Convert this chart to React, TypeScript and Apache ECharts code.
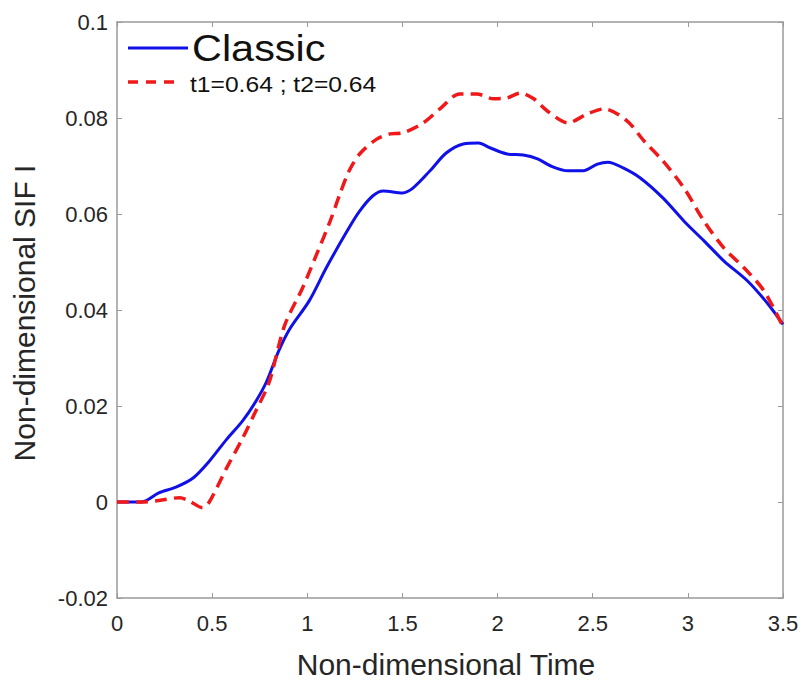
import React, { useEffect, useRef } from "react";
import * as echarts from "echarts";

const xTicks = [0, 0.5, 1, 1.5, 2, 2.5, 3, 3.5];
const yTicks = [-0.02, 0, 0.02, 0.04, 0.06, 0.08, 0.1];

const classicTime = [0, 0.13, 0.22, 0.31, 0.4, 0.485, 0.575, 0.66, 0.73, 0.785, 0.85, 0.907, 1.01, 1.1, 1.21, 1.275, 1.345, 1.4, 1.5, 1.555, 1.645, 1.73, 1.82, 1.9, 1.96, 2.05, 2.135, 2.21, 2.28, 2.37, 2.45, 2.525, 2.58, 2.66, 2.75, 2.87, 2.98, 3.085, 3.19, 3.315, 3.42, 3.5];
const classicSif = [0, 0, 0.0019, 0.0031, 0.005, 0.0085, 0.013, 0.0169, 0.021, 0.025, 0.0315, 0.036, 0.0419, 0.0488, 0.0565, 0.0606, 0.0638, 0.0648, 0.0644, 0.0654, 0.069, 0.0727, 0.0746, 0.0748, 0.0738, 0.0725, 0.0723, 0.0715, 0.07, 0.069, 0.069, 0.0704, 0.0708, 0.0696, 0.0675, 0.0633, 0.0585, 0.0544, 0.0502, 0.046, 0.0413, 0.037];

const modTime = [0, 0.13, 0.22, 0.33, 0.38, 0.45, 0.485, 0.575, 0.66, 0.73, 0.8, 0.88, 0.975, 1.05, 1.12, 1.17, 1.22, 1.275, 1.365, 1.435, 1.5, 1.61, 1.7, 1.8, 1.89, 1.98, 2.05, 2.12, 2.19, 2.26, 2.37, 2.47, 2.56, 2.68, 2.77, 2.87, 2.98, 3.085, 3.19, 3.295, 3.4, 3.5];
const modSif = [0, 0, 0.0003, 0.0009, 0.0002, -0.0012, 0, 0.007, 0.0133, 0.019, 0.025, 0.0367, 0.0446, 0.0517, 0.0585, 0.064, 0.069, 0.0725, 0.0756, 0.0767, 0.0769, 0.079, 0.082, 0.085, 0.085, 0.084, 0.0842, 0.0852, 0.084, 0.0815, 0.079, 0.0808, 0.0819, 0.0794, 0.0752, 0.071, 0.0654, 0.0585, 0.0529, 0.0488, 0.044, 0.0365];

const seriesNames = ["Classic", "t1=0.64 ; t2=0.64"];
const xTitle = "Non-dimensional Time";
const yTitle = "Non-dimensional SIF I";

const FONT = "'Liberation Sans', Arial, sans-serif";
const AXIS_COLOR = "#9a9a9a";
const TEXT_COLOR = "#262626";
const BLUE = "#1010e8";
const RED = "#f01818";

export default function App() {
  const ref = useRef<HTMLDivElement>(null);
  useEffect(() => {
    if (!ref.current) return;
    const chart = echarts.init(ref.current, undefined, { renderer: "svg" });
    const fmt = (v: number) => {
      const r = Math.round(v * 1000) / 1000;
      return String(r);
    };
    const baseX = {
      type: "value" as const,
      min: xTicks[0],
      max: xTicks[xTicks.length - 1],
      interval: 0.5,
      splitLine: { show: false },
      axisLine: { show: true, onZero: false, lineStyle: { color: AXIS_COLOR, width: 1.5 } },
      axisTick: { show: true, inside: true, length: 5, lineStyle: { color: AXIS_COLOR } },
    };
    const baseY = {
      type: "value" as const,
      min: yTicks[0],
      max: yTicks[yTicks.length - 1],
      interval: 0.02,
      splitLine: { show: false },
      axisLine: { show: true, onZero: false, lineStyle: { color: AXIS_COLOR, width: 1.5 } },
      axisTick: { show: true, inside: true, length: 5, lineStyle: { color: AXIS_COLOR } },
    };
    chart.setOption({
      animation: false,
      backgroundColor: "#ffffff",
      grid: { left: 117, right: 20, top: 22, bottom: 84, containLabel: false },
      xAxis: [
        {
          ...baseX,
          position: "bottom",
          axisLabel: { show: true, color: TEXT_COLOR, fontSize: 22, fontFamily: FONT, margin: 14, formatter: fmt },
        },
        { ...baseX, position: "top", axisLabel: { show: false } },
      ],
      yAxis: [
        {
          ...baseY,
          position: "left",
          axisLabel: { show: true, color: TEXT_COLOR, fontSize: 22, fontFamily: FONT, margin: 9, formatter: fmt },
        },
        { ...baseY, position: "right", axisLabel: { show: false } },
      ],
      series: [
        {
          name: seriesNames[0],
          type: "line",
          data: classicTime.map((t, i) => [t, classicSif[i]]),
          showSymbol: false,
          smooth: 0.3,
          lineStyle: { color: BLUE, width: 3 },
          z: 3,
        },
        {
          name: seriesNames[1],
          type: "line",
          data: modTime.map((t, i) => [t, modSif[i]]),
          showSymbol: false,
          smooth: 0.3,
          lineStyle: { color: RED, width: 3.5, type: [12, 7] },
          z: 4,
        },
      ],
      graphic: [
        {
          type: "line",
          shape: { x1: 128, y1: 48, x2: 188, y2: 48 },
          style: { stroke: BLUE, lineWidth: 3 },
        },
        {
          type: "text",
          x: 192,
          y: 48,
          scaleX: 1.12,
          style: {
            text: seriesNames[0],
            fontSize: 37,
            fontFamily: FONT,
            fill: "#111111",
            verticalAlign: "middle",
            align: "left",
          },
        },
        {
          type: "line",
          shape: { x1: 128, y1: 82, x2: 182, y2: 82 },
          style: { stroke: RED, lineWidth: 3.5, lineDash: [10, 8] },
        },
        {
          type: "text",
          x: 190,
          y: 84,
          scaleX: 1.12,
          style: {
            text: seriesNames[1],
            fontSize: 22,
            fontFamily: FONT,
            fill: "#111111",
            verticalAlign: "middle",
            align: "left",
          },
        },
        {
          type: "text",
          x: 446,
          y: 664,
          style: {
            text: xTitle,
            fontSize: 30,
            fontFamily: FONT,
            fill: TEXT_COLOR,
            verticalAlign: "middle",
            align: "center",
          },
        },
        {
          type: "text",
          x: 24,
          y: 313,
          rotation: Math.PI / 2,
          style: {
            text: yTitle,
            fontSize: 30,
            fontFamily: FONT,
            fill: TEXT_COLOR,
            verticalAlign: "middle",
            align: "center",
          },
        },
      ],
    });
    return () => chart.dispose();
  }, []);
  return <div ref={ref} style={{ width: 803, height: 682, position: "absolute", left: 0, top: 0 }} />;
}
